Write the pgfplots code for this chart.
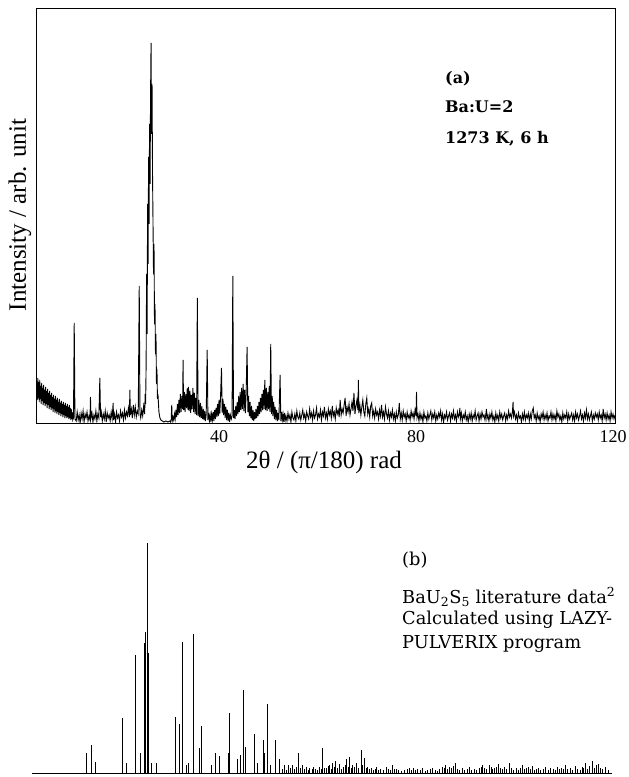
\documentclass[border=0pt]{standalone}
\usepackage{pgfplots}
\pgfplotsset{compat=1.18}
\usepackage{fontspec}
\setmainfont{Liberation Serif}
\newfontfamily\annfont{DejaVu Serif}

\begin{document}
\begin{tikzpicture}
\useasboundingbox (0,0) rectangle (629pt,777pt);
\begin{axis}[
  at={(36pt,353pt)}, anchor=south west,
  scale only axis, width=579pt, height=415pt,
  xmin=2.84, xmax=120.4, ymin=0, ymax=415,
  xtick={40,80,120}, ytick=\empty, major tick length=0pt,
  /pgf/number format/assume math mode=true,
  tick label style={font=\fontsize{18}{20}\selectfont},
  xticklabel style={yshift=-3pt},
  axis line style={line width=1pt},
  clip=true,
]
\addplot[black, line width=0.9pt, no marks, line join=miter] coordinates {
(3.0,40) (3.1,24) (3.2,46) (3.3,26) (3.4,42) (3.5,22) (3.6,44) (3.7,25) (3.8,38) (3.9,20)
(4.0,41) (4.1,23) (4.2,36) (4.3,19) (4.4,39) (4.5,21) (4.6,34) (4.7,18) (4.8,37) (4.9,20)
(5.0,33) (5.1,16) (5.2,35) (5.3,19) (5.4,31) (5.5,15) (5.6,33) (5.7,17) (5.8,29) (5.9,14)
(6.0,31) (6.1,16) (6.2,27) (6.3,12) (6.4,29) (6.5,15) (6.6,25) (6.7,11) (6.8,28) (6.9,13)
(7.0,24) (7.1,10) (7.2,26) (7.3,12) (7.4,22) (7.5,9) (7.6,25) (7.7,11) (7.8,21) (7.9,8)
(8.0,23) (8.1,10) (8.2,20) (8.3,7) (8.4,22) (8.5,9) (8.6,19) (8.7,6) (8.8,21) (8.9,8)
(9.0,18) (9.1,6) (9.2,20) (9.3,7) (9.4,17) (9.5,5) (9.6,19) (9.7,6) (9.8,16) (9.9,4)
(10.0,15) (10.1,5) (10.2,12) (10.3,4) (10.45,6) (10.6,101) (10.75,5)
(11.0,3) (11.2,12) (11.4,4) (11.6,9) (11.8,1) (12.0,11) (12.2,5) (12.4,13) (12.6,2) (12.8,10)
(13.0,6) (13.2,12) (13.4,3) (13.6,8) (13.8,4) (13.9,27) (14.0,6) (14.2,11) (14.4,2) (14.6,9)
(14.8,5) (15.0,13) (15.2,3) (15.4,10) (15.6,6) (15.8,46) (15.95,7) (16.1,12) (16.3,3) (16.5,10)
(16.7,5) (16.9,13) (17.1,2) (17.3,11) (17.5,6) (17.7,9) (17.9,3) (18.1,12) (18.3,5) (18.5,21)
(18.6,4) (18.8,10) (19.0,2) (19.2,12) (19.4,6) (19.6,9) (19.8,3) (20.0,13) (20.2,7) (20.4,11)
(20.6,4) (20.8,14) (21.0,6) (21.2,12) (21.4,8) (21.6,16) (21.8,7) (21.9,34) (22.0,9) (22.2,15)
(22.4,6) (22.6,19) (22.8,9) (23.0,17) (23.2,7) (23.4,13) (23.6,10) (23.8,138) (23.95,10) (24.1,6)
(24.3,14) (24.5,8) (24.7,18) (24.9,10) (25.0,30) (25.1,20) (25.2,60) (25.3,150) (25.4,90) (25.5,220)
(25.6,160) (25.7,267) (25.8,200) (25.9,300) (26.0,240) (26.1,330) (26.2,381) (26.3,290) (26.4,340) (26.5,250)
(26.6,200) (26.7,150) (26.8,180) (26.9,100) (27.0,120) (27.1,70) (27.2,90) (27.3,40) (27.4,55) (27.5,25)
(27.6,30) (27.8,12) (28.0,6) (28.2,4) (28.5,3) (28.8,2) (29.2,3) (29.6,2) (30.0,3) (30.15,2)
(30.3,5) (30.4,19) (30.5,3) (30.65,7) (30.8,4) (30.95,10) (31.1,5) (31.25,14) (31.4,7) (31.55,20)
(31.7,9) (31.85,24) (32.0,11) (32.15,30) (32.3,12) (32.45,28) (32.6,15) (32.7,64) (32.8,14) (32.95,32)
(33.1,12) (33.25,30) (33.4,16) (33.55,36) (33.7,14) (33.8,37) (33.95,13) (34.1,33) (34.25,11) (34.4,29)
(34.55,15) (34.7,36) (34.85,12) (35.0,31) (35.15,10) (35.3,26) (35.45,9) (35.6,126) (35.75,8) (35.9,24)
(36.05,7) (36.2,21) (36.35,6) (36.5,18) (36.65,5) (36.8,15) (36.95,4) (37.1,13) (37.25,3) (37.4,10)
(37.6,74) (37.75,4) (37.9,11) (38.05,3) (38.2,9) (38.35,2) (38.5,10) (38.65,4) (38.8,12) (38.95,3)
(39.1,14) (39.25,5) (39.4,16) (39.55,7) (39.7,20) (39.85,8) (40.0,24) (40.15,10) (40.3,26) (40.5,56)
(40.65,11) (40.8,25) (40.95,9) (41.1,20) (41.25,6) (41.4,17) (41.55,4) (41.7,14) (41.85,3) (42.0,11)
(42.15,2) (42.3,9) (42.5,5) (42.65,8) (42.8,148) (42.95,6) (43.1,14) (43.25,5) (43.4,18) (43.55,8)
(43.7,22) (43.85,10) (44.0,28) (44.15,12) (44.3,32) (44.45,14) (44.6,36) (44.75,15) (44.9,40) (45.05,13)
(45.2,34) (45.35,11) (45.5,30) (45.7,77) (45.85,12) (46.0,28) (46.15,8) (46.3,22) (46.45,6) (46.6,18)
(46.75,4) (46.9,14) (47.05,3) (47.2,12) (47.35,5) (47.5,15) (47.65,6) (47.8,18) (47.95,8) (48.1,22)
(48.25,10) (48.4,26) (48.55,12) (48.7,30) (48.85,14) (49.0,34) (49.15,15) (49.3,44) (49.45,14) (49.6,36)
(49.75,13) (49.9,32) (50.05,15) (50.2,38) (50.35,12) (50.5,80) (50.65,10) (50.8,28) (50.95,8) (51.1,22)
(51.25,5) (51.4,17) (51.55,4) (51.7,14) (51.85,3) (52.0,11) (52.15,4) (52.4,49) (52.55,3) (52.7,12)
(52.85,4) (53.0,10) (53.15,2) (53.3,11) (53.45,4)
(53.6,8) (53.8,3) (54.0,11) (54.2,5) (54.4,9) (54.6,2) (54.8,12) (55.0,6) (55.2,4) (55.4,10)
(55.6,3) (55.8,13) (56.0,7) (56.2,5) (56.4,11) (56.6,4) (56.8,9) (57.0,14) (57.2,6) (57.4,10)
(57.6,3) (57.8,12) (58.0,8) (58.2,5) (58.4,15) (58.6,7) (58.8,11) (59.0,4) (59.2,13) (59.4,6)
(59.6,9) (59.8,16) (60.0,5) (60.2,10) (60.4,7) (60.6,14) (60.8,4) (61.0,12) (61.2,8) (61.4,17)
(61.6,6) (61.8,11) (62.0,5) (62.2,15) (62.4,9) (62.6,13) (62.8,6) (63.0,18) (63.2,8) (63.4,12)
(63.6,5) (63.8,16) (64.0,10) (64.2,14) (64.4,7) (64.6,24) (64.8,9) (65.0,15) (65.2,11) (65.4,19)
(65.6,26) (65.8,8) (66.0,17) (66.2,12) (66.4,20) (66.6,9) (66.8,15) (67.0,22) (67.2,13) (67.4,31)
(67.6,10) (67.8,18) (68.0,24) (68.2,14) (68.3,44) (68.4,11) (68.6,19) (68.8,9) (69.0,17) (69.2,24)
(69.4,12) (69.6,8) (69.8,20) (70.0,26) (70.2,10) (70.4,15) (70.6,7) (70.8,18) (71.0,21) (71.2,8)
(71.4,13) (71.6,6) (71.8,15) (72.0,9) (72.2,12) (72.4,5) (72.6,14) (72.8,8) (73.0,19) (73.2,7)
(73.4,12) (73.6,5) (73.8,17) (74.0,10) (74.2,6) (74.4,13) (74.6,4) (74.8,11) (75.0,7) (75.2,14)
(75.4,5) (75.6,10) (75.8,3) (76.0,12) (76.2,6) (76.4,9) (76.6,21) (76.8,5) (77.0,11) (77.2,4)
(77.4,13) (77.6,7) (77.8,10) (78.0,3) (78.2,12) (78.4,6) (78.6,9) (78.8,4) (79.0,13) (79.2,7)
(79.4,11) (79.6,5) (79.8,14) (80.0,8) (80.1,32) (80.2,6) (80.4,10) (80.6,3) (80.8,11) (81.0,5)
(81.2,9) (81.4,2) (81.6,12) (81.8,6) (82.0,8) (82.2,3) (82.4,11) (82.6,5) (82.8,9) (83.0,13)
(83.2,4) (83.4,10) (83.6,6) (83.8,12) (84.0,3) (84.2,9) (84.4,5) (84.6,11) (84.8,7) (85.0,13)
(85.2,4) (85.4,10) (85.6,2) (85.8,9) (86.0,6) (86.2,12) (86.4,4) (86.6,8) (86.8,11) (87.0,3)
(87.2,10) (87.4,6) (87.6,13) (87.8,5) (88.0,9) (88.2,3) (88.4,12) (88.6,7) (88.8,10) (88.9,16)
(89.0,5) (89.2,11) (89.4,3) (89.6,9) (89.8,6) (90.0,12) (90.2,4) (90.4,8) (90.6,2) (90.8,10)
(91.0,5) (91.2,11) (91.4,3) (91.6,9) (91.8,6) (92.0,13) (92.2,4) (92.4,8) (92.6,11) (92.8,3)
(93.0,10) (93.2,5) (93.4,12) (93.6,7) (93.8,9) (94.0,4) (94.2,11) (94.3,15) (94.4,5) (94.6,9)
(94.8,3) (95.0,10) (95.2,6) (95.4,12) (95.6,4) (95.8,8) (96.0,2) (96.2,11) (96.4,5) (96.6,9)
(96.8,3) (97.0,12) (97.2,6) (97.4,10) (97.6,4) (97.8,8) (98.0,11) (98.2,3) (98.4,9) (98.6,5)
(98.8,13) (99.0,7) (99.2,10) (99.4,6) (99.6,14) (99.7,22) (99.8,8) (100.0,12) (100.2,5) (100.4,9)
(100.6,3) (100.8,11) (101.0,6) (101.2,8) (101.4,2) (101.6,10) (101.8,5) (102.0,12) (102.2,4) (102.4,9)
(102.6,6) (102.8,11) (103.0,3) (103.2,10) (103.4,5) (103.6,13) (103.8,16) (104.0,6) (104.2,9) (104.4,3)
(104.6,11) (104.8,5) (105.0,8) (105.2,2) (105.4,10) (105.6,6) (105.8,12) (106.0,4) (106.2,9) (106.4,5)
(106.6,11) (106.8,3) (107.0,8) (107.2,6) (107.4,12) (107.6,4) (107.8,10) (108.0,5) (108.2,9) (108.4,3)
(108.6,13) (108.8,7) (109.0,10) (109.2,4) (109.4,8) (109.6,2) (109.8,11) (110.0,5) (110.2,9) (110.4,6)
(110.6,12) (110.8,3) (111.0,10) (111.2,5) (111.4,8) (111.6,11) (111.8,4) (112.0,9) (112.2,3) (112.4,12)
(112.6,6) (112.8,10) (113.0,4) (113.2,8) (113.4,13) (113.6,5) (113.8,9) (114.0,3) (114.2,11) (114.4,6)
(114.6,14) (114.8,5) (115.0,10) (115.2,4) (115.4,8) (115.6,12) (115.8,3) (116.0,9) (116.2,5) (116.4,11)
(116.6,7) (116.8,10) (117.0,4) (117.2,12) (117.4,6) (117.6,9) (117.8,3) (118.0,15) (118.2,6) (118.4,10)
(118.6,4) (118.8,11) (119.0,5) (119.2,9) (119.4,3) (119.6,12) (119.8,6) (120.0,10) (120.2,5) (120.4,9)
};
\end{axis}

\begin{axis}[
  at={(32pt,4pt)}, anchor=south west,
  scale only axis, width=580pt, height=240pt,
  xmin=2, xmax=120, ymin=0, ymax=240,
  axis x line*=bottom, axis y line=none,
  x axis line style={-, line width=0.8pt},
  xtick=\empty, ytick=\empty,
  clip=false,
]
\addplot[ycomb, no marks, black, line width=1pt] coordinates {
(13.1,20) (14.2,28) (15.0,11) (20.4,55) (21.3,10) (23.1,118) (24.1,20) (24.8,130) (25.1,141) (25.4,230)
(25.6,120) (26.3,10) (27.3,10) (31.1,56) (32.1,49) (32.7,131) (33.4,8) (33.9,10) (34.9,139) (36.0,25)
(36.4,47) (38.5,8) (39.4,20) (40.1,17) (41.9,20) (42.2,60) (43.8,14) (44.4,18) (45.0,83) (45.4,26)
(47.3,39) (47.8,10) (49.0,33) (49.4,20) (49.9,69) (50.5,8) (51.6,33) (52.4,14) (53.0,4) (53.4,8)
(53.8,3) (54.1,8) (54.5,5) (55.0,8) (55.4,4) (55.8,6) (56.3,20) (56.6,5) (57.0,8) (57.4,4)
(57.8,6) (58.2,3) (58.5,5) (59.0,4) (59.3,6) (59.7,4) (60.1,3) (60.5,6) (60.9,4) (61.2,25)
(61.6,5) (62.0,5) (62.3,7) (62.6,8) (62.9,4) (63.2,10) (63.5,6) (63.8,12) (64.1,5) (64.5,9)
(64.9,4) (65.3,6) (65.7,8) (66.0,14) (66.3,6) (66.6,16) (67.0,5) (67.3,8) (67.7,6) (68.0,10)
(68.4,5) (69.0,23) (69.3,8) (69.7,15) (70.0,5) (70.3,6) (70.7,4) (71.0,5) (71.4,3) (71.8,4)
(72.1,6) (72.5,3) (73.0,4) (73.5,3) (74.1,6) (74.5,4) (75.0,3) (75.4,8) (75.8,4) (76.2,4)
(76.6,3) (77.2,2) (77.8,3) (78.4,4) (78.8,5) (79.2,3) (79.6,5) (80.0,3) (80.5,4) (81.0,3)
(81.5,5) (82.0,2) (82.5,3) (83.0,4) (83.5,5) (84.0,3) (84.5,2) (85.0,4) (85.5,6) (85.9,5)
(86.2,8) (86.6,4) (87.0,6) (87.4,5) (87.8,7) (88.2,10) (88.6,4) (89.0,3) (89.5,5) (90.0,3)
(90.5,4) (91.0,6) (91.4,3) (92.0,4) (92.5,3) (93.0,5) (93.4,6) (93.7,8) (94.1,5) (94.5,4)
(95.0,8) (95.4,6) (95.7,4) (96.0,5) (96.5,6) (97.0,9) (97.4,5) (97.8,4) (98.2,6) (98.6,4)
(99.1,10) (99.5,5) (99.9,3) (100.5,5) (101.0,3) (101.4,5) (101.8,8) (102.2,4) (102.6,5) (103.0,6)
(103.4,4) (103.8,7) (104.3,3) (104.7,4) (105.0,5) (105.5,3) (106.0,4) (106.5,6) (107.0,3) (107.5,5)
(108.0,4) (108.5,3) (109.0,6) (109.4,4) (109.8,5) (110.2,4) (110.6,8) (111.0,4) (111.5,5) (112.0,3)
(112.6,7) (113.0,4) (113.5,3) (114.0,6) (114.3,5) (114.6,10) (115.0,4) (115.5,7) (116.0,12) (116.4,5)
(116.8,8) (117.3,9) (117.7,5) (118.1,4) (118.7,6) (119.2,3)
};
\end{axis}

\node[rotate=90, font=\fontsize{25}{28}\selectfont] at (20pt,562pt) {Intensity / arb. unit};
\node[font=\fontsize{25}{28}\selectfont] at (324pt,315pt) {2θ / (π/180) rad};

\begin{scope}[every node/.style={anchor=west, inner sep=0pt, font=\annfont\bfseries\fontsize{16}{19}\selectfont}]
\node at (445pt,698pt) {(a)};
\node at (445pt,670pt) {Ba:U=2};
\node at (445pt,638pt) {1273 K, 6 h};
\end{scope}
\begin{scope}[every node/.style={anchor=west, inner sep=0pt, font=\annfont\fontsize{17.8}{20}\selectfont}]
\node at (402pt,217pt) {(b)};
\node at (402pt,180pt) {BaU\textsubscript{2}S\textsubscript{5} literature data\textsuperscript{2}};
\node at (402pt,157pt) {Calculated using LAZY-};
\node at (402pt,133pt) {PULVERIX program};
\end{scope}
\end{tikzpicture}
\end{document}
